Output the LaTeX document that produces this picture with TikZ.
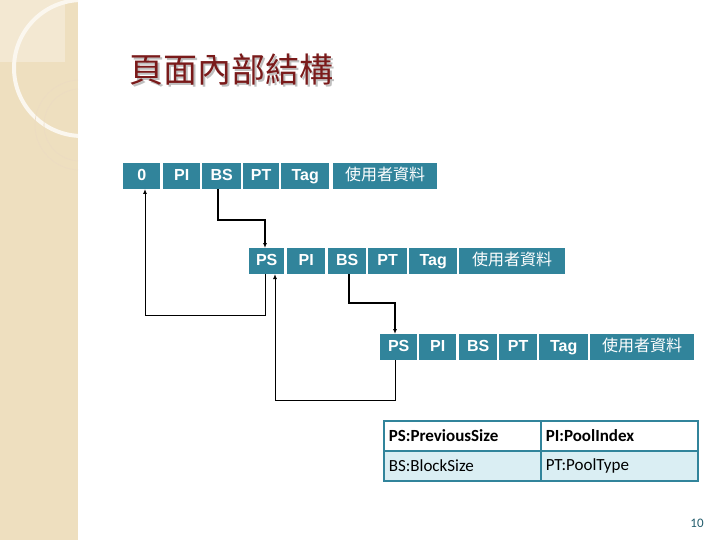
\documentclass[tikz,border=0pt]{standalone}
\usepackage{fontspec}
\setmainfont{Liberation Sans}
\newfontfamily\cjk{Noto Sans CJK TC}
\newfontfamily\carl{Carlito}
\usetikzlibrary{arrows.meta}
\definecolor{cellc}{HTML}{31849B}
\definecolor{side}{HTML}{EEDFBF}
\definecolor{titlec}{HTML}{7A1A1A}
\definecolor{lb}{HTML}{DAEEF3}
\tikzset{
 cell/.style={fill=cellc,text=white,font=\bfseries\fontsize{16}{18}\selectfont,inner sep=0pt,anchor=north west,minimum height=26pt,text height=12pt,text depth=3pt},
 ucell/.style={cell,font=\cjk\fontsize{16}{18}\selectfont},
 link/.style={line width=1.6pt,-{Latex[length=5pt,width=4pt]}},
 loop/.style={line width=0.9pt,-{Latex[length=5pt,width=4pt]}},
 tcell/.style={draw=cellc,line width=1.5pt,anchor=north west,minimum width=157pt,minimum height=30pt,inner xsep=4pt,text width=147pt,align=left,font=\carl\fontsize{17}{19}\selectfont}
}
\begin{document}
\begin{tikzpicture}[x=1pt,y=-1pt]
\useasboundingbox (0,0) rectangle (720,540);
\fill[side] (0,0) rectangle (78,540);
\begin{scope}
\clip (0,0) rectangle (78,540);
\fill[white,opacity=0.3] (0,0) rectangle (65,62);
\draw[white!75!side,line width=4pt] (82,68) circle (68);
\draw[side!70!brown!60,line width=0.6pt] (80,125) circle (45);
\draw[side!70!brown!60,line width=0.6pt] (80,125) circle (36);
\end{scope}
\node[font=\cjk\fontsize{34}{38}\selectfont,text=black!25,anchor=west] at (128,72) {頁面內部結構};
\node[font=\cjk\fontsize{34}{38}\selectfont,text=titlec,anchor=west] at (126,70) {頁面內部結構};
% row 1
\node[cell,minimum width=37pt] (a0) at (123,163) {0};
\node[cell,minimum width=37pt] (aPI) at (163,163) {PI};
\node[cell,minimum width=39pt] (aBS) at (202,163) {BS};
\node[cell,minimum width=36pt] (aPT) at (243,163) {PT};
\node[cell,minimum width=48pt] (aTag) at (281,163) {Tag};
\node[ucell,minimum width=104pt] (aU) at (333,163) {使用者資料};
% row 2
\node[cell,minimum width=35pt] (bPS) at (249,248) {PS};
\node[cell,minimum width=38pt] (bPI) at (287,248) {PI};
\node[cell,minimum width=38pt] (bBS) at (328,248) {BS};
\node[cell,minimum width=39pt] (bPT) at (368,248) {PT};
\node[cell,minimum width=48pt] (bTag) at (409,248) {Tag};
\node[ucell,minimum width=106pt] (bU) at (459,248) {使用者資料};
% row 3
\node[cell,minimum width=37pt] (cPS) at (380,334) {PS};
\node[cell,minimum width=37pt] (cPI) at (419,334) {PI};
\node[cell,minimum width=38pt] (cBS) at (459,334) {BS};
\node[cell,minimum width=38pt] (cPT) at (499,334) {PT};
\node[cell,minimum width=49pt] (cTag) at (539,334) {Tag};
\node[ucell,minimum width=104pt] (cU) at (590,334) {使用者資料};
% connectors
\draw[link] (218,189) |- (265,220) -- (265,248);
\draw[loop] (265,274) |- (145,315) -- (145,189);
\draw[link] (349,274) |- (395,303) -- (395,334);
\draw[loop] (395,360) |- (275,400) -- (275,274);
% table
\node[tcell] (t1) at (383,420) {\bfseries PS:PreviousSize};
\node[tcell] (t2) at (540,420) {\bfseries PI:PoolIndex};
\node[tcell,fill=lb] (t3) at (383,450) {BS:BlockSize};
\node[tcell,fill=lb] (t4) at (540,450) {PT:PoolType};
\node[font=\carl\fontsize{13}{14}\selectfont,text=cellc!70!black] (pg) at (697,523) {10};
\end{tikzpicture}
\end{document}
